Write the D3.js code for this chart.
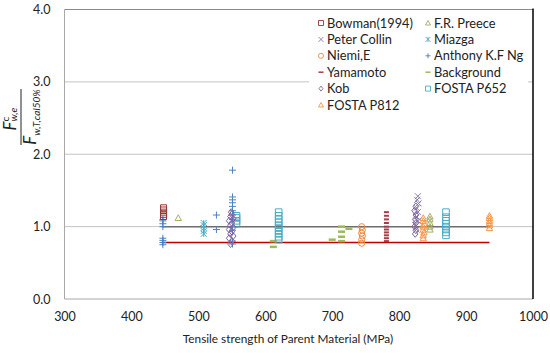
<!DOCTYPE html>
<html>
<head>
<style>
  body { margin: 0; background: #fff; }
  svg text { font-family: Lato, "Open Sans", sans-serif; fill: #222; }
</style>
</head>
<body>
<svg id="svg" width="550" height="353"></svg>
<script src="https://d3js.org/d3.v7.min.js"></script>
<script>
// data: [tensile strength MPa, ratio]
const bowman = [[448, 1.14], [448, 1.17], [448, 1.20], [448, 1.23], [448, 1.26]]
const preece = [[470, 1.12], [846, 1.14], [846, 1.10], [846, 1.05], [846, 1.00], [846, 0.96]]
const collin = [[826, 0.96], [824, 1.02], [828, 1.08], [826, 1.14], [828, 1.20], [826, 1.26], [829, 1.32], [827, 1.37], [828, 1.42]]
const miazga = [[508, 0.90], [508, 0.94], [508, 0.98], [508, 1.02], [508, 1.05]]
const niemi = [[744, 0.77], [744, 0.82], [745, 0.87], [744, 0.91], [745, 0.95], [744, 1.00]]
const anthony = [[447, 0.75], [447, 0.78], [447, 0.81], [447, 0.84], [447, 1.00], [447, 1.04], [447, 1.08], [447, 1.10],
  [527, 0.96], [527, 1.16],
  [551, 0.76], [551, 0.80], [551, 0.95], [551, 1.10], [551, 1.16], [551, 1.22], [551, 1.28], [551, 1.33], [551, 1.37], [551, 1.41], [551, 1.78]]
const yamamoto = [[781, 0.80], [781, 0.84], [781, 0.88], [781, 0.92], [781, 0.96], [781, 1.00], [781, 1.05], [781, 1.10], [781, 1.15], [781, 1.20]]
const background = [[612, 0.72], [612, 0.80], [700, 0.82], [714, 0.80], [714, 0.86], [714, 0.93], [714, 1.00], [725, 0.97]]
const kob = [[548, 0.76], [550, 0.80], [546, 0.84], [552, 0.87], [548, 0.90], [550, 0.93], [546, 0.96], [552, 0.99],
  [548, 1.02], [550, 1.05], [546, 1.08], [552, 1.11], [548, 1.14], [550, 1.17], [549, 1.20],
  [824, 0.90], [825, 0.95], [823, 1.00], [825, 1.05], [824, 1.10], [825, 1.16], [823, 1.22], [825, 1.28]]
const fosta652 = [[557, 1.04], [557, 1.08], [557, 1.12], [557, 1.15],
  [620, 0.82], [620, 0.86], [620, 0.90], [620, 0.94], [620, 0.98], [620, 1.02], [620, 1.06], [620, 1.10], [620, 1.15], [620, 1.20],
  [870, 0.88], [870, 0.92], [870, 0.96], [870, 1.00], [870, 1.04], [870, 1.08], [870, 1.13], [870, 1.20]]
const fosta812 = [[836, 0.84], [836, 0.88], [837, 0.92], [836, 0.96], [836, 1.00], [837, 1.04], [836, 1.08], [836, 1.12],
  [935, 0.98], [935, 1.02], [935, 1.05], [935, 1.08], [935, 1.12], [935, 1.15]]
const refLine = [[445, 1.0], [935, 1.0]]
const lowerLine = [[445, 0.78], [935, 0.78]]

const xTicks = [300, 400, 500, 600, 700, 800, 900, 1000]
const yTicks = [0, 1, 2, 3, 4]

const svg = d3.select("#svg")
const plotLeft = 64.5, plotRight = 533, plotTop = 9.5, plotBottom = 299

const x = d3.scaleLinear().domain([300, 1000]).range([plotLeft, plotRight])
const y = d3.scaleLinear().domain([0, 4]).range([plotBottom, plotTop])

// gridlines
svg.append("g")
  .selectAll("line")
  .data(yTicks.slice(1, 4))
  .join("line")
  .attr("x1", plotLeft).attr("x2", plotRight)
  .attr("y1", d => y(d)).attr("y2", d => y(d))
  .attr("stroke", "#c4c4c4")

// frame
svg.append("line").attr("x1", plotLeft).attr("x2", plotRight).attr("y1", y(4)).attr("y2", y(4)).attr("stroke", "#8a8a8a")
svg.append("line").attr("x1", plotLeft).attr("x2", plotRight).attr("y1", y(0)).attr("y2", y(0)).attr("stroke", "#a8a8a8")
svg.append("line").attr("x1", plotLeft).attr("x2", plotLeft).attr("y1", y(0)).attr("y2", y(4)).attr("stroke", "#a8a8a8")
svg.append("line").attr("x1", plotRight).attr("x2", plotRight).attr("y1", y(0)).attr("y2", y(4) - 1).attr("stroke", "#000").attr("stroke-width", 1.5)

// axes
const xAxis = d3.axisBottom(x).tickValues(xTicks).tickSize(0).tickPadding(13).tickFormat(d3.format("d"))
svg.append("g").attr("transform", `translate(0,${plotBottom})`).call(xAxis)
  .call(g => g.select(".domain").remove())
  .selectAll("text").attr("font-size", 12.5).attr("fill", "#222").attr("font-family", "Lato, sans-serif")

const yAxis = d3.axisLeft(y).tickValues(yTicks).tickSize(0).tickPadding(14).tickFormat(d3.format(".1f"))
svg.append("g").attr("transform", `translate(${plotLeft},0)`).call(yAxis)
  .call(g => g.select(".domain").remove())
  .selectAll("text").attr("font-size", 12.5).attr("fill", "#222").attr("font-family", "Lato, sans-serif")

svg.append("text")
  .attr("x", 288).attr("y", 343)
  .attr("text-anchor", "middle")
  .attr("font-size", 11.8)
  .text("Tensile strength of Parent Material (MPa)")

// y title as a fraction
const yt = svg.append("g").attr("transform", "translate(21,117) rotate(-90)")
yt.append("line").attr("x1", -28).attr("x2", 28).attr("y1", 0).attr("y2", 0).attr("stroke", "#222")
const num = yt.append("text").attr("x", -2).attr("y", -5).attr("text-anchor", "middle")
  .attr("font-family", "'Liberation Serif', serif").attr("font-size", 17)
num.append("tspan").attr("font-style", "italic").text("F")
num.append("tspan").attr("font-size", 10).attr("dy", -7).text("c")
num.append("tspan").attr("font-size", 10).attr("font-style", "italic").attr("dy", 8).attr("dx", -5).text("w,e")
const den = yt.append("text").attr("x", 0).attr("y", 15).attr("text-anchor", "middle")
  .attr("font-family", "'Liberation Serif', serif").attr("font-size", 17)
den.append("tspan").attr("font-style", "italic").text("F")
den.append("tspan").attr("font-size", 10).attr("dy", 4).attr("font-style", "italic").text("w,T,cal50%")

// reference lines
const line = d3.line().x(d => x(d[0])).y(d => y(d[1]))
svg.append("path").attr("d", line(refLine)).attr("stroke", "#6e6e6e").attr("stroke-width", 1.5).attr("fill", "none")
svg.append("path").attr("d", line(lowerLine)).attr("stroke", "#c00000").attr("stroke-width", 1.5).attr("fill", "none")

// marker shapes
const shapes = {
  square: s => `M${-s},${-s}H${s}V${s}H${-s}Z`,
  triangle: s => `M0,${-s}L${s},${s * 0.8}H${-s}Z`,
  circle: s => d3.symbol(d3.symbolCircle, (2 * s) * (2 * s) * 0.8)(),
  diamond: s => `M0,${-s}L${s * 0.8},0L0,${s}L${-s * 0.8},0Z`,
  cross: s => `M${-s},0H${s}M0,${-s}V${s}`,
  ex: s => `M${-s},${-s}L${s},${s}M${-s},${s}L${s},${-s}`,
  star: s => `M${-s},${-s}L${s},${s}M${-s},${s}L${s},${-s}M0,${-s}V${s}`,
  dash: s => `M${-s},0H${s}`
}

const series = [
  { name: "Bowman(1994)", data: bowman, shape: "square", color: "#953735", size: 3, sw: 1 },
  { name: "F.R. Preece", data: preece, shape: "triangle", color: "#a9ab68", size: 3.2, sw: 1 },
  { name: "Peter Collin", data: collin, shape: "ex", color: "#8a7aaa", size: 3, sw: 1 },
  { name: "Miazga", data: miazga, shape: "star", color: "#4bacc6", size: 3, sw: 1 },
  { name: "Niemi,E", data: niemi, shape: "circle", color: "#f0883e", size: 3, sw: 1 },
  { name: "Anthony K.F Ng", data: anthony, shape: "cross", color: "#4f81bd", size: 3.5, sw: 1 },
  { name: "Yamamoto", data: yamamoto, shape: "dash", color: "#a0404a", size: 2.5, sw: 2 },
  { name: "Background", data: background, shape: "dash", color: "#9bbb59", size: 3.5, sw: 2.5 },
  { name: "Kob", data: kob, shape: "diamond", color: "#8064a2", size: 3.5, sw: 1 },
  { name: "FOSTA P652", data: fosta652, shape: "square", color: "#4bacc6", size: 3.3, sw: 1 },
  { name: "FOSTA P812", data: fosta812, shape: "triangle", color: "#f79646", size: 3.2, sw: 1 }
]

const drawOrder = ["Background", "Yamamoto", "Niemi,E", "FOSTA P652", "Miazga", "Anthony K.F Ng", "Bowman(1994)",
  "Kob", "Peter Collin", "F.R. Preece", "FOSTA P812"]

drawOrder.forEach(n => {
  const s = series.find(d => d.name === n)
  svg.append("g")
    .selectAll("path")
    .data(s.data)
    .join("path")
    .attr("transform", d => `translate(${x(d[0])},${y(d[1])})`)
    .attr("d", shapes[s.shape](s.size))
    .attr("fill", "none")
    .attr("stroke", s.color)
    .attr("stroke-width", s.sw)
})

// legend
const legend = svg.append("g")
legend.append("rect").attr("x", 309).attr("y", 13).attr("width", 219).attr("height", 100).attr("fill", "#fff")

const legendOrder = ["Bowman(1994)", "F.R. Preece", "Peter Collin", "Miazga", "Niemi,E", "Anthony K.F Ng",
  "Yamamoto", "Background", "Kob", "FOSTA P652", "FOSTA P812"]

legendOrder.forEach((n, i) => {
  const s = series.find(d => d.name === n)
  const col = i % 2, row = Math.floor(i / 2)
  const lx = col === 0 ? 321 : 428
  const ly = 23 + row * 16.4
  legend.append("path")
    .attr("transform", `translate(${lx},${ly})`)
    .attr("d", shapes[s.shape](2.5))
    .attr("fill", "none")
    .attr("stroke", s.color)
    .attr("stroke-width", s.shape === "dash" ? 1.5 : 0.9)
  legend.append("text")
    .attr("x", lx + 6).attr("y", ly + 4.5)
    .attr("font-size", 12.8)
    .text(n)
})
</script>
</body>
</html>
